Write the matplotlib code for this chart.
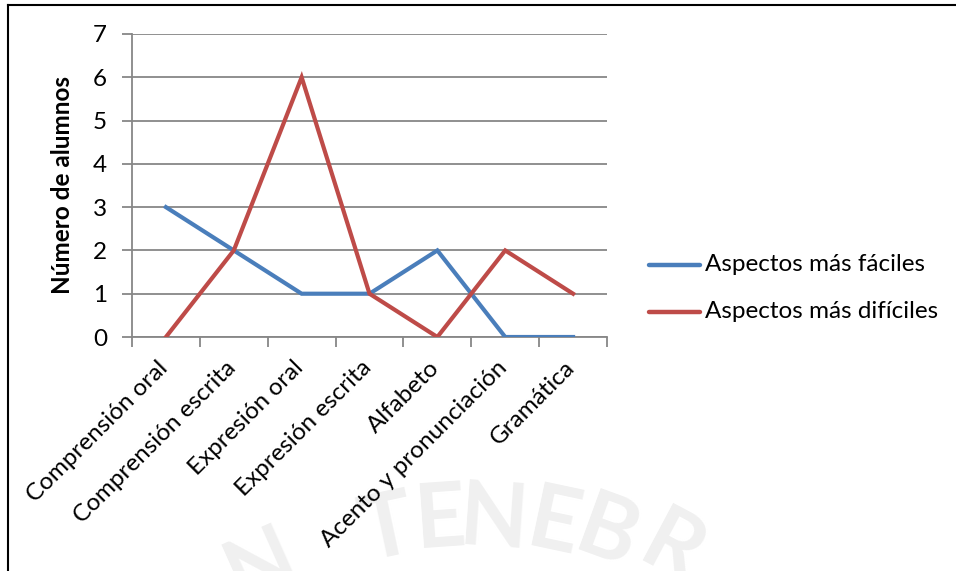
import matplotlib
matplotlib.use("Agg")
import matplotlib.pyplot as plt
from matplotlib.lines import Line2D
import matplotlib.transforms as mtransforms

categories = ["Comprensión oral", "Comprensión escrita", "Expresión oral",
              "Expresión escrita", "Alfabeto", "Acento y pronunciación", "Gramática"]
faciles = [3, 2, 1, 1, 2, 0, 0]
dificiles = [0, 2, 6, 1, 0, 2, 1]
series_names = ["Aspectos más fáciles", "Aspectos más difíciles"]
y_ticks = [0, 1, 2, 3, 4, 5, 6, 7]

FONT = "Lato"
SIZE = 17.5
BLUE = "#4A7EBB"
RED = "#BE4B48"
GRID = "#878787"
W, H = 956, 571


def fx(px):
    return px / W


def fy(py):
    return 1 - py / H


fig = plt.figure(figsize=(W / 100, H / 100), dpi=100)
fig.patch.set_facecolor("white")

# faint arc-shaped background lettering, kept behind everything else
wm = [("N", 262, 566, 24), ("T", 387, 530, 12), ("E", 440, 520, 4),
      ("N", 494, 520, -4), ("E", 554, 525, -12), ("B", 607, 535, -20),
      ("R", 672, 550, -28)]
for ch, px, py, rot in wm:
    fig.text(fx(px), fy(py), ch, fontsize=64, fontweight="bold",
             family=FONT, color="#f0f0f0", rotation=rot,
             ha="center", va="center", zorder=-5)

ax = fig.add_axes([fx(132), fy(337), (607 - 132) / W, (337 - 34) / H])
ax.set_facecolor("none")
x = list(range(len(categories)))
ax.plot(x, faciles, color=BLUE, lw=3.0, solid_joinstyle="miter", zorder=3)
ax.plot(x, dificiles, color=RED, lw=3.0, solid_joinstyle="miter", zorder=3)

ax.set_xlim(-0.5, len(categories) - 0.5)
ax.set_ylim(0, 7)
ax.set_yticks(y_ticks)
ax.yaxis.grid(True, color=GRID, lw=1.3)
ax.set_axisbelow(True)
for s in ["top", "right"]:
    ax.spines[s].set_visible(False)
for s in ["left", "bottom"]:
    ax.spines[s].set_color(GRID)
    ax.spines[s].set_linewidth(1.3)
ax.tick_params(axis="y", length=7, width=1.3, color=GRID, labelsize=SIZE, pad=11)
ax.set_xticks(x)
ax.set_xticks([i - 0.5 for i in range(len(categories) + 1)], minor=True)
ax.tick_params(axis="x", which="minor", length=7, width=1.3, color=GRID)
ax.tick_params(axis="x", which="major", length=0, pad=0)
ax.set_xticklabels(categories, rotation=45, ha="right", va="top",
                   rotation_mode="anchor", fontsize=SIZE, family=FONT)
offset = mtransforms.ScaledTranslation(-9 / 100, -20 / 100, fig.dpi_scale_trans)
for lbl in ax.get_xticklabels():
    lbl.set_transform(lbl.get_transform() + offset)
for lbl in ax.get_yticklabels():
    lbl.set_family(FONT)
    lbl.set_color("black")

fig.text(fx(62), fy(185), "Número de alumnos", rotation=90, fontsize=SIZE,
         fontweight="bold", family=FONT, ha="center", va="center")

# legend: short line swatch followed by the series name
for name, color, py in zip(series_names, [BLUE, RED], [265, 312]):
    fig.add_artist(Line2D([fx(649), fx(700)], [fy(py), fy(py)], color=color,
                          lw=3.2, solid_capstyle="round", transform=fig.transFigure))
    fig.text(fx(705), fy(py), name, fontsize=SIZE, family=FONT,
             ha="left", va="center")

# frame lines on the left and top
fig.add_artist(Line2D([fx(8), fx(8)], [0, fy(5)], color="black", lw=1.5,
                      transform=fig.transFigure))
fig.add_artist(Line2D([fx(8), 1], [fy(5), fy(5)], color="black", lw=1.5,
                      transform=fig.transFigure))

fig.savefig("out.png", dpi=100, facecolor="white")
